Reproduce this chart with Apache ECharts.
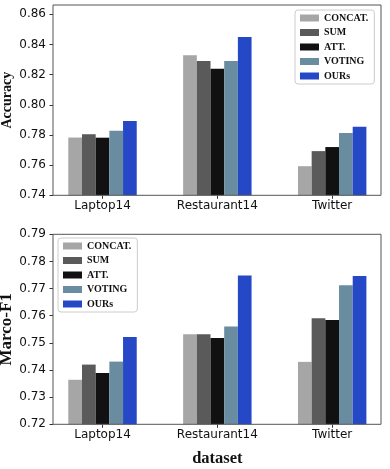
<!DOCTYPE html>
<html>
<head>
<meta charset="utf-8">
<script src="https://cdn.jsdelivr.net/npm/echarts@6/dist/echarts.min.js"></script>
<style>html,body{margin:0;padding:0;background:#fff}#c{width:390px;height:469px}</style>
</head>
<body>
<div id="c"></div>
<script>
// ---- data ----
var categories = ['Laptop14', 'Restaurant14', 'Twitter'];
var methods = ['CONCAT.', 'SUM', 'ATT.', 'VOTING', 'OURs'];
var colors = ['#a6a6a6', '#5a5a5a', '#111111', '#6a8ca1', '#2548c7'];

var accConcat = [0.7783, 0.8328, 0.7593];
var accSum    = [0.7805, 0.8290, 0.7693];
var accAtt    = [0.7782, 0.8240, 0.7720];
var accVoting = [0.7828, 0.8290, 0.7813];
var accOurs   = [0.7892, 0.8450, 0.7855];

var f1Concat = [0.7364, 0.7532, 0.7430];
var f1Sum    = [0.7420, 0.7532, 0.7591];
var f1Att    = [0.7389, 0.7518, 0.7584];
var f1Voting = [0.7431, 0.7560, 0.7712];
var f1Ours   = [0.7522, 0.7748, 0.7746];

var accTicks = [0.74, 0.76, 0.78, 0.80, 0.82, 0.84, 0.86];
var f1Ticks = [0.72, 0.73, 0.74, 0.75, 0.76, 0.77, 0.78, 0.79];

var accSeries = [accConcat, accSum, accAtt, accVoting, accOurs];
var f1Series = [f1Concat, f1Sum, f1Att, f1Voting, f1Ours];

var chart = echarts.init(document.getElementById('c'));
var tickFont = {fontFamily: 'DejaVu Sans', fontSize: 12, color: '#111'};
var serifBold = 'Liberation Serif';

function frameY(min, max, ticks, name, size, gap, gridIndex) {
  return {
    type: 'value', gridIndex: gridIndex, min: min, max: max,
    splitLine: {show: false},
    axisLine: {show: false},
    axisTick: {show: true, length: 3.5, inside: false, customValues: ticks, lineStyle: {color: '#333'}},
    axisLabel: Object.assign({customValues: ticks, margin: 7, formatter: function (v) { return v.toFixed(2); }}, tickFont),
    name: name, nameLocation: 'middle', nameRotate: 90, nameGap: gap, nameMoveOverlap: false,
    nameTextStyle: {fontFamily: serifBold, fontWeight: 'bold', fontSize: size, color: '#111'}
  };
}
function hiddenY(min, max, gridIndex) {
  return {type: 'value', gridIndex: gridIndex, min: min, max: max, show: false, splitLine: {show: false}};
}
function hiddenX(gridIndex) {
  return {type: 'value', gridIndex: gridIndex, min: 0, max: 1, show: false, splitLine: {show: false}};
}
function catX(gridIndex, name) {
  return {
    type: 'category', gridIndex: gridIndex, data: categories,
    axisLine: {show: false},
    axisTick: {show: true, alignWithLabel: true, length: 3.5, lineStyle: {color: '#333'}},
    axisLabel: Object.assign({margin: 5, interval: 0}, tickFont),
    name: name || '', nameLocation: 'middle', nameGap: 26, nameMoveOverlap: false,
    nameTextStyle: {fontFamily: serifBold, fontWeight: 'bold', fontSize: 16.5, color: '#111'}
  };
}
function legend(left, top) {
  return {
    orient: 'vertical', left: left, top: top, data: methods,
    itemWidth: 19, itemHeight: 7, itemGap: 4.5,
    icon: 'rect',
    padding: [3, 6, 3, 5],
    borderColor: '#cccccc', borderWidth: 1, borderRadius: 3,
    backgroundColor: '#fff',
    textStyle: {fontFamily: serifBold, fontWeight: 'bold', fontSize: 10, color: '#111'},
    selectedMode: false
  };
}

var series = [];
methods.forEach(function (m, i) {
  series.push({name: m, type: 'bar', xAxisIndex: 1, yAxisIndex: 1, data: accSeries[i],
    itemStyle: {color: colors[i]}, barGap: '0%', barCategoryGap: '40.4%', z: 1});
});
methods.forEach(function (m, i) {
  series.push({name: m, type: 'bar', xAxisIndex: 3, yAxisIndex: 3, data: f1Series[i],
    itemStyle: {color: colors[i]}, barGap: '0%', barCategoryGap: '40.4%', z: 1});
});

var gb = {outerBoundsMode: 'none', containLabel: false};
chart.setOption({
  animation: false,
  grid: [
    Object.assign({left: 53, right: 9, top: 5, height: 190.3, show: true, borderColor: '#555', borderWidth: 1, z: 3, backgroundColor: 'transparent'}, gb),
    Object.assign({left: 45.1, width: 344.5, top: 5, height: 190.3}, gb),
    Object.assign({left: 53, right: 9, top: 234.3, height: 190, show: true, borderColor: '#555', borderWidth: 1, z: 3, backgroundColor: 'transparent'}, gb),
    Object.assign({left: 45.1, width: 344.5, top: 234.3, height: 190}, gb)
  ],
  xAxis: [hiddenX(0), catX(1), hiddenX(2), catX(3, 'dataset')],
  yAxis: [
    frameY(0.74, 0.8662, accTicks, 'Accuracy', 14, 38.5, 0),
    hiddenY(0.74, 0.8662, 1),
    frameY(0.72, 0.79, f1Ticks, 'Marco-F1', 17, 38, 2),
    hiddenY(0.72, 0.79, 3)
  ],
  legend: [legend(295, 10), legend(58, 238)],
  series: series
});
</script>
</body>
</html>
